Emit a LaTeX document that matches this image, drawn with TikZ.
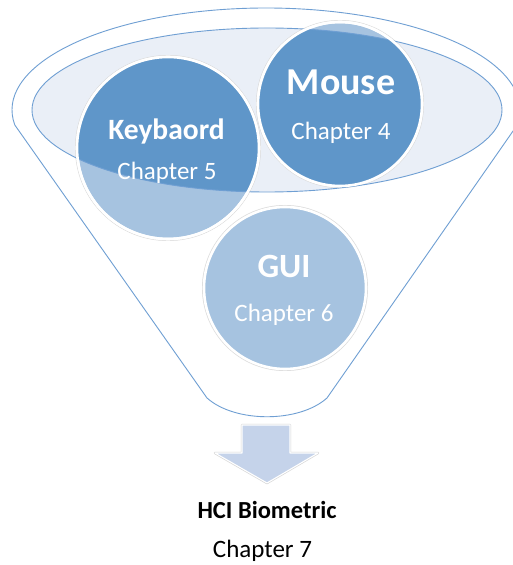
\documentclass[tikz,border=0pt]{standalone}
\usepackage{fontspec}
\setmainfont{Carlito}
\definecolor{deepblue}{HTML}{5F96C9}
\definecolor{paleblue}{HTML}{A6C3E0}
\definecolor{rimfill}{HTML}{EAEFF7}
\definecolor{rimline}{HTML}{6F9FD3}
\definecolor{arrowfill}{HTML}{C5D3EA}
\tikzset{
  outline/.style={draw=rimline, line width=0.9pt},
  ball/.style={circle, inner sep=0pt, fill=paleblue, draw=white, line width=2.6pt},
  ballshadow/.style={fill=black!14},
  ring/.style={draw=white, line width=2.6pt},
  head/.style={anchor=base, text=white, font=\bfseries},
  sub/.style={anchor=base, text=white, font=\fontsize{25}{28}\selectfont},
}
\begin{document}
\begin{tikzpicture}[x=1pt, y=1pt]
\useasboundingbox[fill=white] (0,0) rectangle (513,565);

% funnel body: upper half of the rim, straight sides, rounded spout
\draw[outline, fill=white]
  (14.8,440) arc[start angle=188.46, end angle=-8.46, x radius=254pt, y radius=102pt]
  -- (327,167) .. controls (299,142) and (235,142) .. (207,167) -- cycle;

% inner rim
\fill[rimfill] (267,455) ellipse [x radius=235pt, y radius=82pt];

% faint shadows under the circles
\fill[ballshadow] (168,417) circle (93pt);
\fill[ballshadow] (340,461) circle (84pt);
\fill[ballshadow] (285,277) circle (83pt);

% circles
\node[ball, minimum size=182pt] (kb) at (168,417) {};
\node[ball, minimum size=164pt] (ms) at (340,461) {};
\node[ball, minimum size=162pt] (gui) at (285,277) {};

% the parts seen through the rim are darker
\begin{scope}
  \clip (267,455) ellipse [x radius=235pt, y radius=82pt];
  \fill[deepblue] (kb.center) circle (91pt);
  \fill[deepblue] (ms.center) circle (82pt);
\end{scope}
\draw[outline] (267,455) ellipse [x radius=235pt, y radius=82pt];
\draw[ring] (kb.center) circle (91pt);
\draw[ring] (ms.center) circle (82pt);

% labels
\node[head, font=\bfseries\fontsize{38}{40}\selectfont] (mst) at (341,470) {Mouse};
\node[sub] (msc) at (341,425) {Chapter 4};
\node[head, font=\bfseries\fontsize{29.5}{32}\selectfont] (kbt) at (166.5,425) {Keybaord};
\node[sub] (kbc) at (167,385) {Chapter 5};
\node[head, font=\bfseries\fontsize{34}{36}\selectfont] (guit) at (284,287) {GUI};
\node[sub] (guic) at (284,243) {Chapter 6};

% down arrow out of the spout
\draw[draw=black!16, line width=2.4pt, line join=round]
  (242,140) -- (290,140) -- (290,112) -- (318,112) -- (267,82) -- (215,112) -- (242,112) -- cycle;
\draw[fill=arrowfill, draw=white, line width=1.1pt, line join=round]
  (242,140) -- (290,140) -- (290,112) -- (318,112) -- (267,82) -- (215,112) -- (242,112) -- cycle;

% result
\node[anchor=base, font=\bfseries\fontsize{24.5}{26}\selectfont] (res) at (267,46) {HCI Biometric};
\node[anchor=base, font=\fontsize{25}{26}\selectfont] (resc) at (262.5,8) {Chapter 7};
\end{tikzpicture}
\end{document}
